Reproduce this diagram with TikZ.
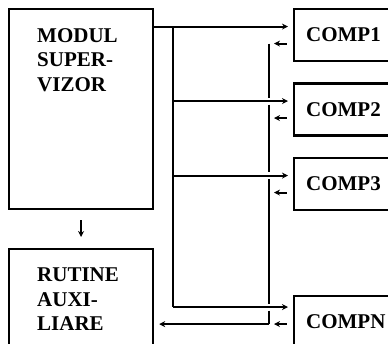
\documentclass[tikz,border=0pt]{standalone}
\usepackage{fontspec}
\setmainfont{Liberation Serif}
\usetikzlibrary{arrows.meta,positioning,calc}

\begin{document}
\begin{tikzpicture}[x=1pt,y=-1pt,>={Stealth[length=6pt,width=6pt]},
 box/.style={draw,line width=2.2pt,minimum width=144pt,anchor=north west,inner sep=0pt},
 comp/.style={draw,line width=2.2pt,minimum height=52pt,anchor=north west,inner xsep=12pt,text width=86pt,align=left,font=\bfseries\fontsize{21}{24.5}\selectfont},
 lbl/.style={inner sep=0pt,align=left,font=\bfseries\fontsize{21}{24.5}\selectfont},
 conn/.style={line width=1.9pt}]
\useasboundingbox (0,0) rectangle (388,344);
\clip (0,0) rectangle (388,344);
\node[box,minimum height=200pt] (sup) at (8,8) {};
\node[lbl,below right=20pt and 29pt of sup.north west] (suptxt) {MODUL\\SUPER-\\VIZOR};
\node[box,minimum height=112pt] (rut) at (8,248) {};
\node[lbl,below right=20pt and 29pt of rut.north west] (ruttxt) {RUTINE\\AUXI-\\LIARE};
\node[comp] (c1) at (293,8) {COMP1};
\node[comp] (c2) at (293,82.5) {COMP2};
\node[comp] (c3) at (293,157) {COMP3};
\node[comp] (cN) at (293,295) {COMPN};
\foreach \n in {1,2,3}{
 \coordinate (i\n) at ([yshift=8.5pt]c\n.west);
 \coordinate (o\n) at ([yshift=-8.5pt]c\n.west);
}
\coordinate (iN) at ([yshift=15pt]cN.west);
\coordinate (oN) at ([yshift=-2pt]cN.west);
\coordinate (busL) at (173,0);
\coordinate (busR) at (269,0);
\draw[conn,->,shorten >=5pt] (sup.east |- i1) -- (i1);
\draw[conn] (busL |- i1) -- (busL |- iN);
\foreach \n in {2,3,N}
 \draw[conn,->,shorten >=5pt] (busL |- i\n) -- (i\n);
\draw[conn] (busR |- o1) -- ([yshift=3.5pt]busR |- i2)
 ([yshift=-3.5pt]busR |- i2) -- ([yshift=3.5pt]busR |- i3)
 ([yshift=-3.5pt]busR |- i3) -- ([yshift=3.5pt]busR |- iN)
 ([yshift=-3.5pt]busR |- iN) -- (busR |- oN);
\foreach \n in {1,2,3,N}
 \draw[conn,<-,shorten <=5pt,shorten >=6pt] (busR |- o\n) -- (o\n);
\draw[conn,->,shorten >=5pt] (busR |- oN) -- (rut.east |- oN);
\draw[conn,->,shorten <=10pt,shorten >=11pt] (sup) -- (rut);
\end{tikzpicture}
\end{document}
